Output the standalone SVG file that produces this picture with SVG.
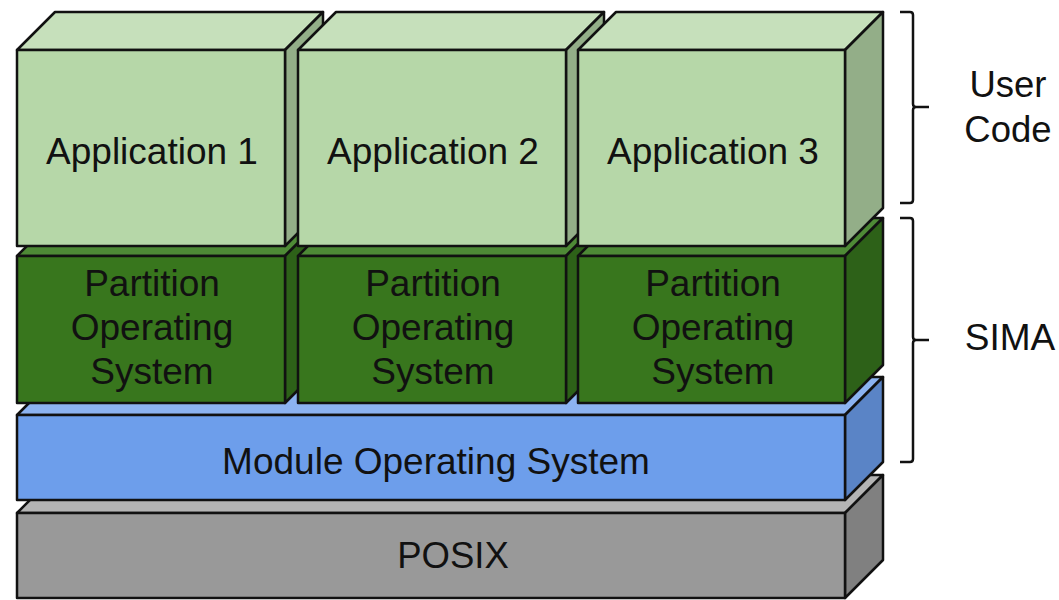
<svg xmlns="http://www.w3.org/2000/svg" width="1059" height="600" viewBox="0 0 1059 600">
  <style>
    .edge { stroke: #111; stroke-width: 2.5; stroke-linejoin: round; }
    .lbl { font-family: "Liberation Sans", Arial, sans-serif; font-size: 37px; fill: #111; text-anchor: middle; }
    .app .front { fill: #b6d7a8; } .app .top { fill: #c6e0bb; } .app .side { fill: #93ae88; }
    .part .front { fill: #38761d; } .part .top { fill: #4e8a36; } .part .side { fill: #2d6118; }
    .mos .front { fill: #6d9eeb; } .mos .top { fill: #8cb3f1; } .mos .side { fill: #5a84c6; }
    .posix .front { fill: #999999; } .posix .top { fill: #b4b4b4; } .posix .side { fill: #808080; }
    .brace { fill: none; stroke: #111; stroke-width: 2.5; stroke-linejoin: round; }
  </style>

  <rect width="1059" height="600" fill="#ffffff"/>

  <!-- Base layer: POSIX (front 17..845 x 513..598, depth 38) -->
  <g id="posix" class="posix">
    <polygon class="top edge" points="17,513 55,475 883,475 845,513"/>
    <polygon class="side edge" points="845,513 883,475 883,560 845,598"/>
    <rect class="front edge" x="17" y="513" width="828" height="85"/>
    <text class="lbl" x="453" y="568" style="font-size:36.5px">POSIX</text>
  </g>

  <!-- Module Operating System -->
  <g id="module-os" class="mos">
    <polygon class="top edge" points="17,415 55,377 883,377 845,415"/>
    <polygon class="side edge" points="845,415 883,377 883,462 845,500"/>
    <rect class="front edge" x="17" y="415" width="828" height="85"/>
    <text class="lbl" x="436" y="474">Module Operating System</text>
  </g>

  <!-- Partition Operating Systems -->
  <g id="pos-1" class="part">
    <polygon class="top edge" points="17,256 55,218 323,218 285,256"/>
    <polygon class="side edge" points="285,256 323,218 323,365 285,403"/>
    <rect class="front edge" x="17" y="256" width="268" height="147"/>
    <text class="lbl"><tspan x="152" y="296">Partition</tspan><tspan x="152" y="340">Operating</tspan><tspan x="152" y="384">System</tspan></text>
  </g>
  <g id="pos-2" class="part">
    <polygon class="top edge" points="298,256 336,218 604,218 566,256"/>
    <polygon class="side edge" points="566,256 604,218 604,365 566,403"/>
    <rect class="front edge" x="298" y="256" width="268" height="147"/>
    <text class="lbl"><tspan x="433" y="296">Partition</tspan><tspan x="433" y="340">Operating</tspan><tspan x="433" y="384">System</tspan></text>
  </g>
  <g id="pos-3" class="part">
    <polygon class="top edge" points="578,256 616,218 883,218 845,256"/>
    <polygon class="side edge" points="845,256 883,218 883,365 845,403"/>
    <rect class="front edge" x="578" y="256" width="267" height="147"/>
    <text class="lbl"><tspan x="713" y="296">Partition</tspan><tspan x="713" y="340">Operating</tspan><tspan x="713" y="384">System</tspan></text>
  </g>

  <!-- Applications -->
  <g id="app-1" class="app">
    <polygon class="top edge" points="17,50 55,12 323,12 285,50"/>
    <polygon class="side edge" points="285,50 323,12 323,208 285,246"/>
    <rect class="front edge" x="17" y="50" width="268" height="196"/>
    <text class="lbl" x="152" y="164">Application 1</text>
  </g>
  <g id="app-2" class="app">
    <polygon class="top edge" points="298,50 336,12 604,12 566,50"/>
    <polygon class="side edge" points="566,50 604,12 604,208 566,246"/>
    <rect class="front edge" x="298" y="50" width="268" height="196"/>
    <text class="lbl" x="433" y="164">Application 2</text>
  </g>
  <g id="app-3" class="app">
    <polygon class="top edge" points="578,50 616,12 883,12 845,50"/>
    <polygon class="side edge" points="845,50 883,12 883,208 845,246"/>
    <rect class="front edge" x="578" y="50" width="267" height="196"/>
    <text class="lbl" x="713" y="164">Application 3</text>
  </g>

  <!-- Grouping braces -->
  <g id="connectors">
    <path class="brace" d="M900,12 H910 Q913,12 913,15 V104 Q913,107 916,107 H929 M916,107 Q913,107 913,110 V200 Q913,203 910,203 H900"/>
    <path class="brace" d="M900,218 H910 Q913,218 913,221 V337 Q913,340 916,340 H929 M916,340 Q913,340 913,343 V459 Q913,462 910,462 H900"/>
  </g>

  <g id="user-code">
    <text class="lbl" style="font-size:36.5px"><tspan x="1008" y="97">User</tspan><tspan x="1008" y="142">Code</tspan></text>
  </g>
  <g id="sima">
    <text class="lbl" x="1010" y="350">SIMA</text>
  </g>
</svg>
